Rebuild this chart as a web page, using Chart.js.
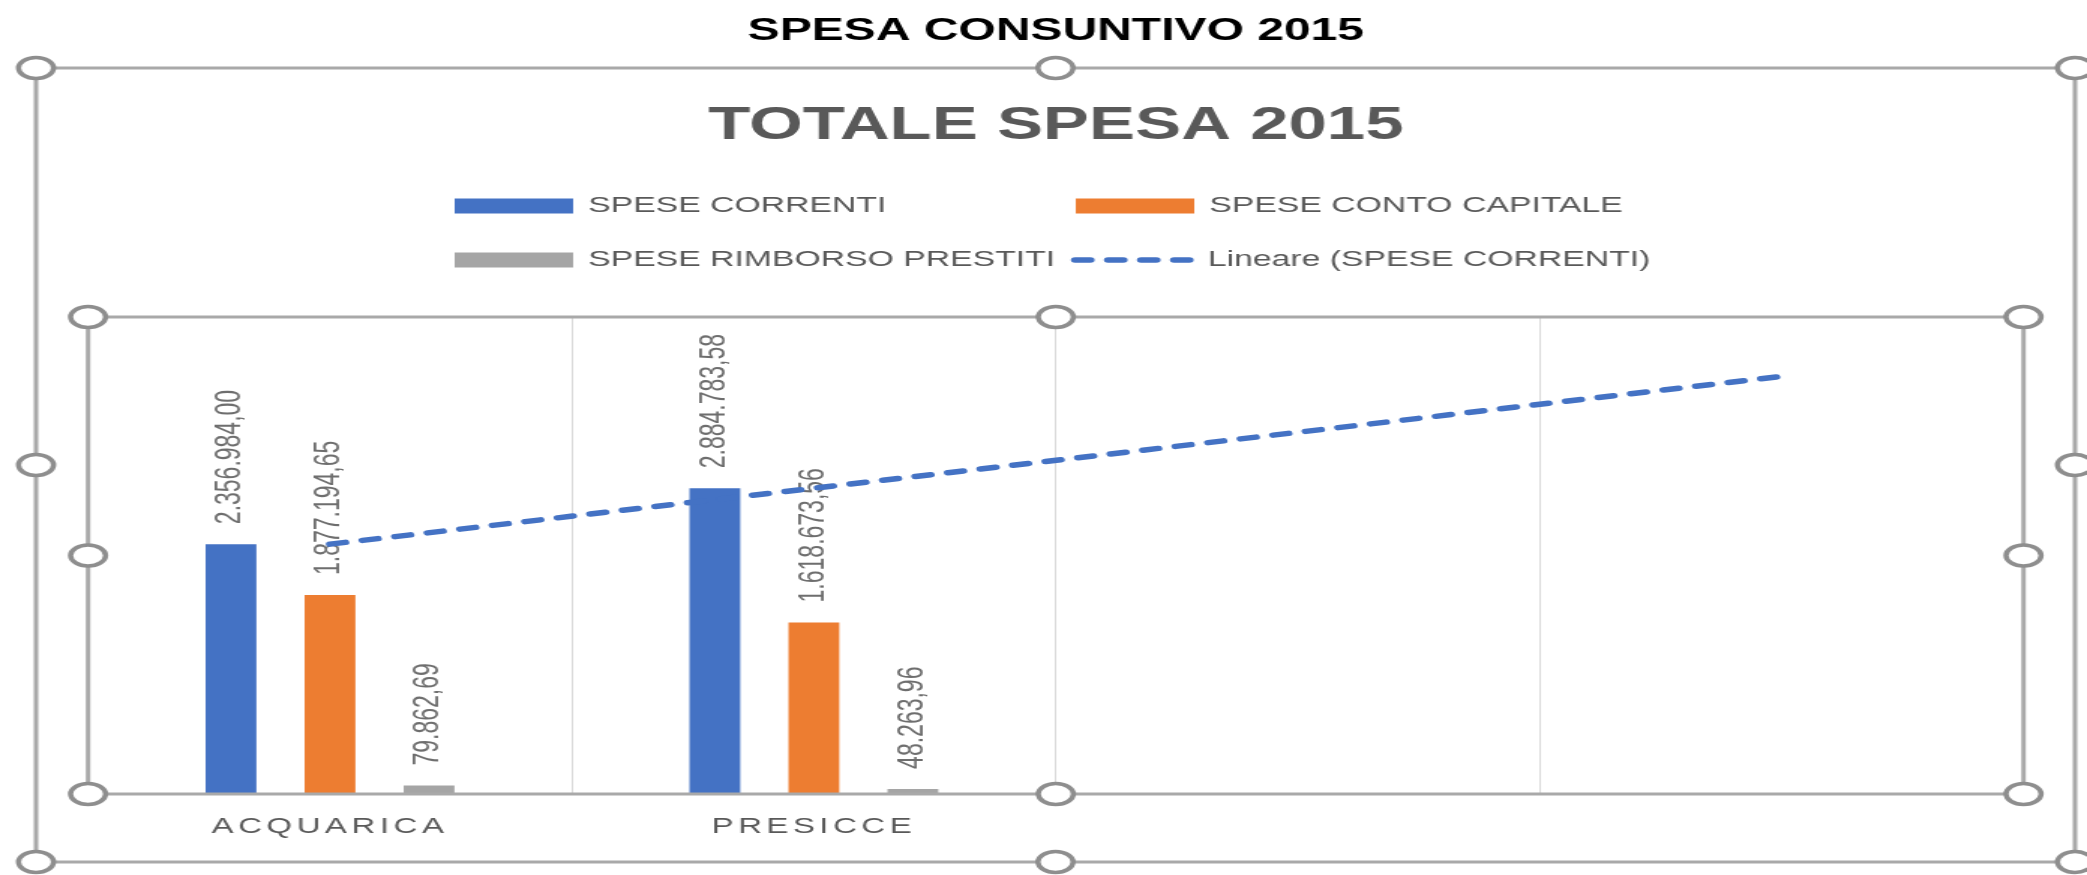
<!DOCTYPE html>
<html>
<head>
<meta charset="utf-8">
<script src="https://cdn.jsdelivr.net/npm/chart.js@4/dist/chart.umd.min.js"></script>
<style>
html,body{margin:0;padding:0;background:#ffffff;overflow:hidden}
#c{display:block}
</style>
</head>
<body>
<canvas id="c" width="1391" height="875" style="width:2087px;height:875px;display:block"></canvas>
<script>
// ---- data ----
const pageTitle = 'SPESA CONSUNTIVO 2015';
const chartTitle = 'TOTALE SPESA 2015';
const categories = ['ACQUARICA', 'PRESICCE', '', ''];
const seriesNames = ['SPESE CORRENTI', 'SPESE CONTO CAPITALE', 'SPESE RIMBORSO PRESTITI', 'Lineare (SPESE CORRENTI)'];
const speseCorrenti = [2356984.00, 2884783.58];
const speseContoCapitale = [1877194.65, 1618673.56];
const speseRimborsoPrestiti = [79862.69, 48263.96];
const trendSpeseCorrenti = [2356984, null, null, 3940000];
const yMin = 0;
const yMax = 4500000;

// ---- style ----
const FONT = '"Liberation Sans", Arial, sans-serif';
const BLUE = '#4472C4', ORANGE = '#ED7D31', GRAY = '#A5A5A5';

function fmtIT(v) {
  const parts = v.toFixed(2).split('.');
  return parts[0].replace(/\B(?=(\d{3})+(?!\d))/g, '.') + ',' + parts[1];
}

function handle(ctx, x, y) {
  ctx.beginPath();
  ctx.ellipse(x, y, 11.7, 10.5, 0, 0, Math.PI * 2);
  ctx.fillStyle = '#ffffff';
  ctx.fill();
  ctx.lineWidth = 3.5;
  ctx.strokeStyle = '#8e8e8e';
  ctx.stroke();
}

function frame(ctx, l, t, r, b) {
  ctx.lineWidth = 3;
  ctx.strokeStyle = '#a9a9a9';
  ctx.strokeRect(l, t, r - l, b - t);
  const mx = (l + r) / 2, my = (t + b) / 2;
  [[l, t], [mx, t], [r, t], [l, my], [r, my], [l, b], [mx, b], [r, b]].forEach(p => handle(ctx, p[0], p[1]));
}

const decor = {
  id: 'decor',
  beforeDraw(chart) {
    const s = chart.scales.x;
    if (s && !s.$spaced) {
      const orig = s.drawLabels;
      s.drawLabels = function (ca) {
        const ctx = this.ctx;
        ctx.save();
        ctx.letterSpacing = '3px';
        orig.call(this, ca);
        ctx.restore();
      };
      s.$spaced = true;
    }
  },
  beforeDatasetsDraw(chart) {
    const ctx = chart.ctx;
    ctx.save();
    ctx.font = '23px ' + FONT;
    ctx.fillStyle = '#6e6e6e';
    ctx.textAlign = 'left';
    ctx.textBaseline = 'middle';
    chart.data.datasets.forEach((ds, di) => {
      if (ds.type === 'line') return;
      const meta = chart.getDatasetMeta(di);
      meta.data.forEach((el, j) => {
        const v = ds.data[j];
        if (v == null) return;
        ctx.save();
        ctx.translate(el.x, el.y - 20);
        ctx.rotate(-Math.PI / 2);
        ctx.fillText(fmtIT(v), 0, 0);
        ctx.restore();
      });
    });
    ctx.restore();
  },
  afterDraw(chart) {
    const ctx = chart.ctx;
    const a = chart.chartArea;
    ctx.save();
    const items = [
      {ds: 1, x: 303, y: 206},
      {ds: 2, x: 717, y: 206},
      {ds: 3, x: 303, y: 260},
      {ds: 0, x: 714, y: 260}
    ];
    ctx.font = '22.5px ' + FONT;
    ctx.textBaseline = 'middle';
    ctx.textAlign = 'left';
    items.forEach(it => {
      const ds = chart.data.datasets[it.ds];
      if (ds.type === 'line') {
        ctx.save();
        ctx.strokeStyle = ds.borderColor;
        ctx.lineWidth = 5.5;
        ctx.lineCap = 'round';
        ctx.setLineDash([10.3, 11.7]);
        ctx.beginPath();
        ctx.moveTo(it.x + 2.5, it.y);
        ctx.lineTo(it.x + 82, it.y);
        ctx.stroke();
        ctx.restore();
        ctx.fillStyle = '#595959';
        ctx.fillText(ds.label, it.x + 91, it.y);
      } else {
        ctx.fillStyle = ds.backgroundColor;
        ctx.fillRect(it.x, it.y - 7.5, 79, 15);
        ctx.fillStyle = '#595959';
        ctx.fillText(ds.label, it.x + 89, it.y);
      }
    });
    frame(ctx, a.left, a.top, a.right, a.bottom);
    frame(ctx, 24, 68, 1383, 862);
    ctx.restore();
  }
};

new Chart(document.getElementById('c'), {
  type: 'bar',
  data: {
    labels: categories,
    datasets: [
      {type: 'line', label: seriesNames[3], data: trendSpeseCorrenti, borderColor: BLUE, borderWidth: 5.5,
       borderDash: [10.3, 11.7], borderCapStyle: 'round', pointRadius: 0, spanGaps: true, fill: false,
       tension: 0, order: -1},
      {label: seriesNames[0], data: speseCorrenti, backgroundColor: BLUE},
      {label: seriesNames[1], data: speseContoCapitale, backgroundColor: ORANGE},
      {label: seriesNames[2], data: speseRimborsoPrestiti, backgroundColor: GRAY}
    ]
  },
  options: {
    responsive: false,
    animation: false,
    devicePixelRatio: 1,
    layout: {padding: {left: 58.7, right: 42.3, top: 0, bottom: 15.4}},
    datasets: {bar: {categoryPercentage: 0.614, barPercentage: 0.513}},
    plugins: {
      legend: {display: false},
      tooltip: {enabled: false},
      title: {display: true, text: pageTitle, color: '#000000',
              font: {family: FONT, size: 32, weight: 'bold'}, padding: {top: 11.8, bottom: 0}},
      subtitle: {display: true, text: chartTitle, color: '#595959',
                 font: {family: FONT, size: 46, weight: 'bold'}, padding: {top: 48.2, bottom: 163.4}}
    },
    scales: {
      x: {
        grid: {color: '#d9d9d9', lineWidth: 1, drawTicks: false, offset: true},
        border: {display: false},
        ticks: {color: '#595959', padding: 19.6, font: {family: FONT, size: 22}}
      },
      y: {display: false, min: yMin, max: yMax}
    }
  },
  plugins: [decor]
});
</script>
</body>
</html>
